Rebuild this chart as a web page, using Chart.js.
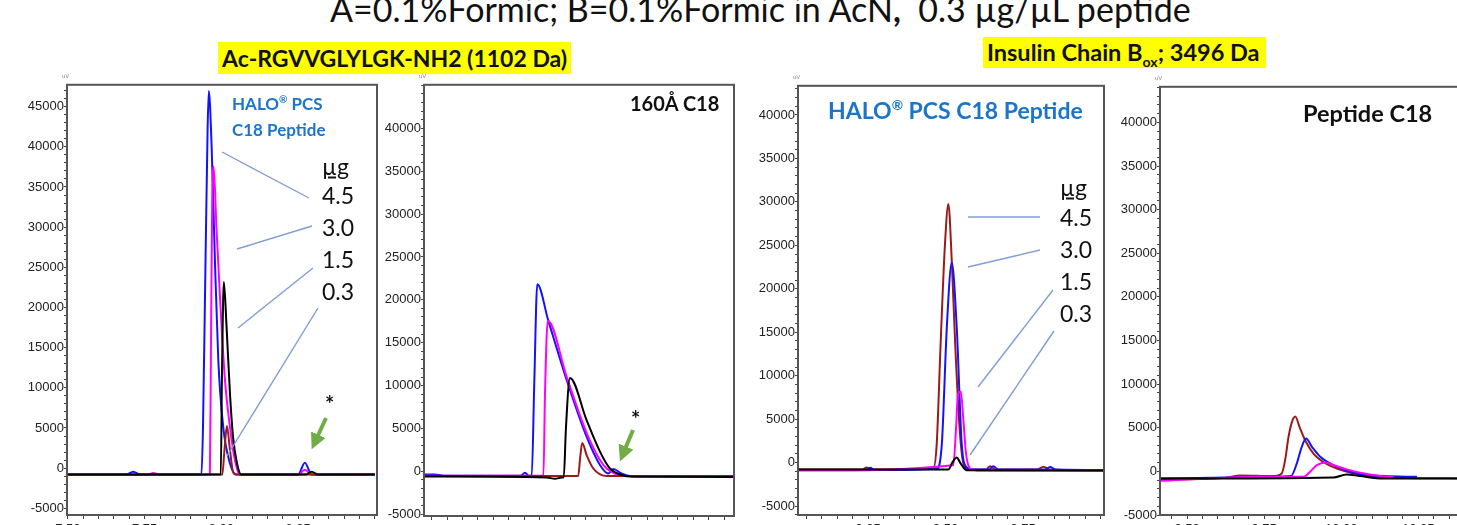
<!DOCTYPE html>
<html>
<head>
<meta charset="utf-8">
<script src="https://cdn.jsdelivr.net/npm/chart.js@4.4.1/dist/chart.umd.min.js"></script>
<style>
body { margin: 0; width: 1457px; height: 525px; overflow: hidden; background: #fff; position: relative; font-family: Lato, "Open Sans", sans-serif; }
canvas { position: absolute; }
.txt { position: absolute; white-space: pre; line-height: 1; transform: translateY(-50%); }
.blue { color: #1b75c9; font-weight: bold; }
.bold { font-weight: bold; color: #111; }
.dose { font-size: 23px; color: #111; }
.hl { position: absolute; background: #ffff00; font-weight: bold; color: #111; white-space: pre; }
.uv { position: absolute; font-size: 6px; color: #888; font-family: "Liberation Sans", Arial, sans-serif; }
sup { font-size: 60%; }
#overlay { position: absolute; left: 0; top: 0; }
</style>
</head>
<body>

<div class="txt" id="title" style="left:330px; top:9px; font-size:34px; color:#111;">A=0.1%Formic; B=0.1%Formic in AcN<b>,</b>  0.3 µg/µL peptide</div>
<div class="hl" style="left:218px; top:42px; height:32px; line-height:32px; font-size:23px; padding:0 4px;">Ac-RGVVGLYLGK-NH2 (1102 Da)</div>
<div class="hl" style="left:983px; top:37px; height:31px; line-height:31px; font-size:23.5px; padding:0 6px 0 4px;">Insulin Chain B<sub style="font-size:60%">ox</sub>; 3496 Da</div>

<canvas id="panel1"></canvas>
<canvas id="panel2"></canvas>
<canvas id="panel3"></canvas>
<canvas id="panel4"></canvas>

<span class="uv" style="left:62px; top:73px;">uV</span>
<span class="uv" style="left:419px; top:73px;">uV</span>
<span class="uv" style="left:793px; top:74px;">uV</span>
<span class="uv" style="left:1155px; top:75px;">uV</span>

<!-- panel 1 labels -->
<div class="txt blue" style="left:232px; top:103px; font-size:17px;">HALO<sup>®</sup> PCS</div>
<div class="txt blue" style="left:232px; top:129px; font-size:17px;">C18 Peptide</div>
<div class="txt dose" style="left:322px; top:166px; text-decoration:underline;">µg</div>
<div class="txt dose" style="left:322px; top:195px;">4.5</div>
<div class="txt dose" style="left:322px; top:227px;">3.0</div>
<div class="txt dose" style="left:322px; top:259px;">1.5</div>
<div class="txt dose" style="left:322px; top:291px;">0.3</div>
<div class="txt bold" style="left:325px; top:404px; font-size:22px;">*</div>

<!-- panel 2 labels -->
<div class="txt bold" style="left:630px; top:103px; font-size:20px;">160Å C18</div>
<div class="txt bold" style="left:631px; top:419px; font-size:22px;">*</div>

<!-- panel 3 labels -->
<div class="txt blue" style="left:828px; top:110px; font-size:23px;">HALO<sup>®</sup> PCS C18 Peptide</div>
<div class="txt dose" style="left:1060px; top:187px; text-decoration:underline;">µg</div>
<div class="txt dose" style="left:1060px; top:217px;">4.5</div>
<div class="txt dose" style="left:1060px; top:249px;">3.0</div>
<div class="txt dose" style="left:1060px; top:281px;">1.5</div>
<div class="txt dose" style="left:1060px; top:313px;">0.3</div>

<!-- panel 4 labels -->
<div class="txt bold" style="left:1303px; top:114px; font-size:23.5px;">Peptide C18</div>

<svg id="overlay" width="1457" height="525">
  <defs>
    <marker id="head" markerWidth="4" markerHeight="4" refX="2" refY="2" orient="auto" markerUnits="strokeWidth">
      <path d="M0,0 L4,2 L0,4 z" fill="#70ad47"/>
    </marker>
  </defs>
  <g stroke="#7f9ed6" stroke-width="1.4">
    <line x1="222" y1="152" x2="309" y2="198"/>
    <line x1="237" y1="249" x2="312" y2="226"/>
    <line x1="238" y1="328" x2="313" y2="268"/>
    <line x1="227" y1="456" x2="318" y2="308"/>
    <line x1="968" y1="217" x2="1040" y2="217"/>
    <line x1="968" y1="267" x2="1040" y2="250"/>
    <line x1="978" y1="387" x2="1053" y2="290"/>
    <line x1="970" y1="455" x2="1054" y2="331"/>
  </g>
  <g stroke="#70ad47" stroke-width="4">
    <line x1="326" y1="418" x2="315" y2="442" marker-end="url(#head)"/>
    <line x1="633" y1="430" x2="623" y2="454" marker-end="url(#head)"/>
  </g>
</svg>

<script>
// Panel 1: Ac-RGVVGLYLGK-NH2, HALO PCS C18 Peptide (time in min, signal in uV)
const p1BlueT = [7.50, 7.69, 7.713, 7.735, 7.935, 7.940, 7.948, 7.955, 7.959, 7.968, 7.979, 7.990, 8.006, 8.028, 8.049, 8.250, 8.272, 8.294, 8.50];
const p1BlueV = [-800, -800, -450, -800, -800, 5000, 25000, 42000, 46950, 40250, 25800, 13400, 5100, 580, -800, -800, 660, -800, -800];
const p1MagT = [7.50, 7.76, 7.778, 7.80, 7.9625, 7.966, 7.970, 7.9746, 7.984, 7.995, 8.011, 8.028, 8.044, 8.060, 8.250, 8.272, 8.295, 8.50];
const p1MagV = [-850, -850, -600, -850, -800, 15000, 33000, 37560, 29900, 21650, 11300, 5100, 1000, -800, -850, -200, -850, -800];
const p1BlackT = [7.50, 7.998, 8.002, 8.008, 8.017, 8.028, 8.038, 8.051, 8.065, 8.275, 8.294, 8.315, 8.50];
const p1BlackV = [-800, -800, 12000, 23180, 17500, 9250, 3900, 580, -800, -800, -450, -800, -800];
const p1RedT = [7.50, 8.003, 8.010, 8.018, 8.028, 8.038, 8.047, 8.50];
const p1RedV = [-800, -800, 2250, 5250, 2250, -500, -800, -800];

// Panel 2: Ac-RGVVGLYLGK-NH2, 160A C18
const p2BlueT = [7.175, 7.21, 7.24, 7.49, 7.503, 7.515, 7.525, 7.533, 7.543, 7.579, 7.639, 7.7035, 7.747, 7.774, 7.790, 7.817, 7.844, 8.182];
const p2BlueV = [-350, -350, -500, -500, -150, -500, -500, 10000, 21810, 17550, 10590, 4010, 720, -245, 290, -250, -550, -550];
const p2MagT = [7.175, 7.563, 7.568, 7.577, 7.639, 7.7035, 7.758, 7.790, 7.822, 8.182];
const p2MagV = [-500, -500, 9000, 17550, 10970, 4470, 720, -170, -550, -550];
const p2BlackT = [7.175, 7.573, 7.601, 7.622, 7.629, 7.636, 7.649, 7.7035, 7.747, 7.779, 7.812, 7.855, 8.182];
const p2BlackV = [-600, -700, -870, -700, -700, 5000, 10900, 5940, 2270, 335, -360, -630, -650];
const p2RedT = [7.175, 7.676, 7.682, 7.689, 7.7035, 7.725, 7.747, 7.769, 8.182];
const p2RedV = [-550, -550, 1500, 3310, 1880, 335, -360, -550, -550];

// Panel 3: Insulin chain B ox, HALO PCS C18 Peptide
const p3RedT = [9.024, 9.23, 9.246, 9.26, 9.461, 9.4715, 9.484, 9.498, 9.509, 9.520, 9.531, 9.545, 9.5575, 9.574, 9.63, 9.6435, 9.66, 9.795, 9.816, 9.835, 10.01];
const p3RedV = [-800, -800, -560, -800, -560, 2190, 13650, 25100, 29760, 23190, 13650, 4090, -110, -790, -800, -420, -800, -800, -480, -800, -900];
const p3BlueT = [9.024, 9.245, 9.257, 9.27, 9.4715, 9.488, 9.504, 9.520, 9.536, 9.552, 9.568, 9.584, 9.64, 9.654, 9.67, 9.82, 9.837, 9.855, 10.01];
const p3BlueV = [-850, -850, -600, -850, -700, 2190, 15550, 23000, 15550, 2190, -560, -800, -800, -420, -800, -800, -500, -800, -850];
const p3MagT = [9.024, 9.525, 9.534, 9.540, 9.549, 9.5575, 9.566, 9.579, 9.601, 10.01];
const p3MagV = [-920, -300, 4090, 7920, 8190, 4860, 1040, -680, -900, -900];
const p3BlackT = [9.024, 9.509, 9.523, 9.536, 9.549, 9.568, 10.01];
const p3BlackV = [-800, -790, 80, 580, -110, -870, -900];

// Panel 4: Insulin chain B ox, Peptide C18
const p4RedT = [9.412, 9.629, 9.672, 9.780, 9.807, 9.818, 9.829, 9.840, 9.851, 9.865, 9.883, 9.910, 9.954, 10.008, 10.072, 10.148, 10.418];
const p4RedV = [-930, -720, -470, -540, -240, 1280, 3940, 5650, 6300, 5080, 3560, 2040, 820, 60, -470, -700, -810];
const p4BlueT = [9.412, 9.629, 9.780, 9.837, 9.856, 9.872, 9.886, 9.905, 9.932, 9.975, 10.040, 10.137, 10.246];
const p4BlueV = [-830, -700, -620, -540, 910, 2810, 3760, 2810, 1670, 720, -150, -540, -620];
const p4MagT = [9.412, 9.629, 9.737, 9.878, 9.899, 9.921, 9.948, 9.975, 10.018, 10.083, 10.148, 10.17];
const p4MagV = [-1080, -720, -620, -620, -50, 720, 1030, 720, 230, -310, -620, -650];
const p4BlackT = [9.412, 9.975, 10.018, 10.061, 10.137, 10.418];
const p4BlackV = [-830, -700, -350, -540, -810, -830];

// labelled ticks
const p1XLabels = [7.50, 7.75, 8.00, 8.25];
const p2XLabels = [7.25, 7.50, 7.75, 8.00];
const p3XLabels = [9.25, 9.50, 9.75];
const p4XLabels = [9.50, 9.75, 10.00, 10.25];
const p1YLabels = [-5000, 0, 5000, 10000, 15000, 20000, 25000, 30000, 35000, 40000, 45000];
const p2YLabels = [-5000, 0, 5000, 10000, 15000, 20000, 25000, 30000, 35000, 40000];
const p3YLabels = [-5000, 0, 5000, 10000, 15000, 20000, 25000, 30000, 35000, 40000];
const p4YLabels = [-5000, 0, 5000, 10000, 15000, 20000, 25000, 30000, 35000, 40000];
const xMinorStep = 0.05;
const yMinorStep = 1000;

const colorBlue = '#1212ff';
const colorMagenta = '#ff00ff';
const colorBlack = '#000000';
const colorRed = '#9c1a1a';

function toPoints(t, v) {
    return t.map((x, i) => ({ x: x, y: v[i] }));
}

function trace(t, v, color) {
    return {
        data: toPoints(t, v),
        borderColor: color,
        borderWidth: 2,
        pointRadius: 0,
        cubicInterpolationMode: 'monotone',
        fill: false
    };
}

// minor tick positions inside the axis range
function minorTicks(min, max, step) {
    let out = [];
    for (let k = Math.ceil(min / step - 1e-9); k * step <= max + 1e-9; k++) {
        out.push({ value: Math.round(k * step * 1000) / 1000 });
    }
    return out;
}

function inList(list, v, tol) {
    return list.some(x => Math.abs(x - v) < tol);
}

// grey frame around each plot
const framePlugin = {
    id: 'frame',
    afterDraw(chart) {
        const a = chart.chartArea;
        const ctx = chart.ctx;
        ctx.save();
        ctx.strokeStyle = '#555';
        ctx.lineWidth = 2;
        ctx.strokeRect(a.left, a.top, a.right - a.left, a.bottom - a.top);
        ctx.restore();
    }
};

const tickFont = { family: '"Liberation Sans", Arial, sans-serif', size: 13 };

function makePanel(id, box, xr, yr, xLabels, yLabels, datasets) {
    const canvas = document.getElementById(id);
    const axisW = 60, axisH = 30, padT = 6, padR = 6;
    const w = box.r - box.l + axisW + padR;
    const h = box.b - box.t + padT + axisH;
    canvas.width = w;
    canvas.height = h;
    canvas.style.width = w + 'px';
    canvas.style.height = h + 'px';
    canvas.style.left = (box.l - axisW) + 'px';
    canvas.style.top = (box.t - padT) + 'px';

    return new Chart(canvas, {
        type: 'line',
        data: { datasets: datasets },
        options: {
            responsive: false,
            animation: false,
            devicePixelRatio: 1,
            layout: { padding: { top: padT, right: padR, left: 0, bottom: 0 } },
            plugins: { legend: { display: false }, tooltip: { enabled: false } },
            scales: {
                x: {
                    type: 'linear',
                    min: xr[0],
                    max: xr[1],
                    afterFit: (s) => { s.height = axisH; },
                    afterBuildTicks: (s) => { s.ticks = minorTicks(xr[0], xr[1], xMinorStep); },
                    border: { display: false },
                    grid: { drawOnChartArea: false, drawTicks: true, tickLength: 4, color: '#444' },
                    ticks: {
                        autoSkip: false,
                        maxRotation: 0,
                        padding: 3,
                        color: '#222',
                        font: tickFont,
                        callback: (v) => inList(xLabels, v, 1e-4) ? v.toFixed(2) : ''
                    }
                },
                y: {
                    type: 'linear',
                    min: yr[0],
                    max: yr[1],
                    afterFit: (s) => { s.width = axisW; },
                    afterBuildTicks: (s) => { s.ticks = minorTicks(yr[0], yr[1], yMinorStep); },
                    border: { display: false },
                    grid: { drawOnChartArea: false, drawTicks: true, tickLength: 3, color: '#444' },
                    ticks: {
                        autoSkip: false,
                        padding: 0,
                        color: '#222',
                        font: tickFont,
                        callback: (v) => inList(yLabels, v, 1) ? String(v) : ''
                    }
                }
            }
        },
        plugins: [framePlugin]
    });
}

makePanel('panel1', { l: 67, r: 377, t: 83, b: 515 }, [7.497, 8.507], [-5830, 47720], p1XLabels, p1YLabels, [
    trace(p1BlackT, p1BlackV, colorBlack),
    trace(p1RedT, p1RedV, colorRed),
    trace(p1MagT, p1MagV, colorMagenta),
    trace(p1BlueT, p1BlueV, colorBlue)
]);

makePanel('panel2', { l: 424, r: 734, t: 83, b: 516 }, [7.175, 8.182], [-5200, 45070], p2XLabels, p2YLabels, [
    trace(p2BlackT, p2BlackV, colorBlack),
    trace(p2RedT, p2RedV, colorRed),
    trace(p2MagT, p2MagV, colorMagenta),
    trace(p2BlueT, p2BlueV, colorBlue)
]);

makePanel('panel3', { l: 798, r: 1104, t: 84, b: 515 }, [9.024, 10.011], [-6030, 43360], p3XLabels, p3YLabels, [
    trace(p3BlackT, p3BlackV, colorBlack),
    trace(p3MagT, p3MagV, colorMagenta),
    trace(p3BlueT, p3BlueV, colorBlue),
    trace(p3RedT, p3RedV, colorRed)
]);

makePanel('panel4', { l: 1160, r: 1470, t: 85, b: 515 }, [9.412, 10.418], [-5000, 44080], p4XLabels, p4YLabels, [
    trace(p4BlackT, p4BlackV, colorBlack),
    trace(p4MagT, p4MagV, colorMagenta),
    trace(p4BlueT, p4BlueV, colorBlue),
    trace(p4RedT, p4RedV, colorRed)
]);
</script>
</body>
</html>
